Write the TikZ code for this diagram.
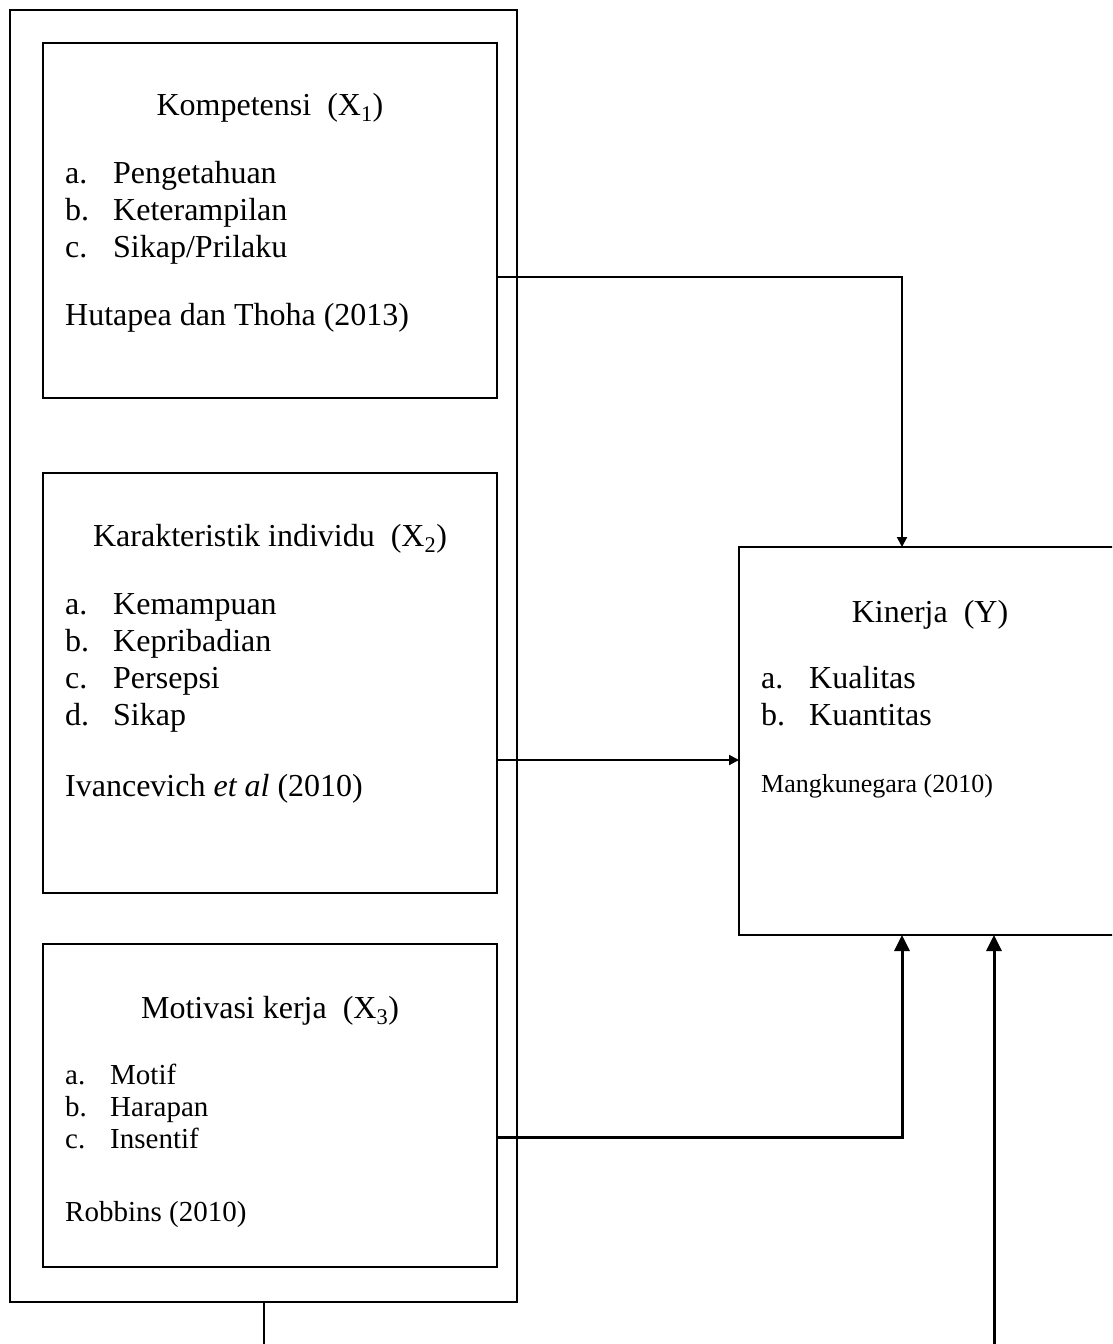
\documentclass[tikz,border=0pt]{standalone}
\usepackage{fontspec}
\setmainfont{Liberation Serif}
\usetikzlibrary{arrows.meta,calc}
\tikzset{
  box/.style={draw=black, line width=2pt, rectangle, inner sep=0pt, outer sep=0pt, anchor=north west},
  txt/.style={anchor=base west, inner sep=0pt, font=\fontsize{32}{36}\selectfont},
  stxt/.style={anchor=base west, inner sep=0pt, font=\fontsize{29}{32}\selectfont},
  xstxt/.style={anchor=base west, inner sep=0pt, font=\fontsize{26}{30}\selectfont},
  ttl/.style={anchor=base, inner sep=0pt, font=\fontsize{32}{36}\selectfont},
  conn/.style={draw=black, line width=2pt, -{Triangle[length=10pt,width=10pt]}},
  thick conn/.style={draw=black, line width=3pt, -{Triangle[length=16pt,width=15pt]}},
  plain/.style={draw=black, line width=2pt},
}
\begin{document}
\begin{tikzpicture}[x=1pt,y=-1pt]
\useasboundingbox (0,0) rectangle (1112,1344);
\clip (0,0) rectangle (1112,1344);
% boxes
\node[box, minimum width=507pt, minimum height=1292pt] (outer) at (10,10) {};
\node[box, minimum width=454pt, minimum height=355pt] (b1) at (43,43) {};
\node[box, minimum width=454pt, minimum height=420pt] (b2) at (43,473) {};
\node[box, minimum width=454pt, minimum height=323pt] (b3) at (43,944) {};
\node[box, minimum width=382pt, minimum height=388pt] (ky) at (739,547) {};
% box 1 text
\node[ttl] (t1) at (270,115) {Kompetensi\ \ (X\textsubscript{1})};
\node[txt] (t1a) at (65,183) {a.}; \node[txt] (t1a2) at (113,183) {Pengetahuan};
\node[txt] (t1b) at (65,220) {b.}; \node[txt] (t1b2) at (113,220) {Keterampilan};
\node[txt] (t1c) at (65,257) {c.}; \node[txt] (t1c2) at (113,257) {Sikap/Prilaku};
\node[txt] (t1r) at (65,325) {Hutapea dan Thoha (2013)};
% box 2 text
\node[ttl] (t2) at (270,546) {Karakteristik individu\ \ (X\textsubscript{2})};
\node[txt] (t2a) at (65,614) {a.}; \node[txt] (t2a2) at (113,614) {Kemampuan};
\node[txt] (t2b) at (65,651) {b.}; \node[txt] (t2b2) at (113,651) {Kepribadian};
\node[txt] (t2c) at (65,688) {c.}; \node[txt] (t2c2) at (113,688) {Persepsi};
\node[txt] (t2d) at (65,725) {d.}; \node[txt] (t2d2) at (113,725) {Sikap};
\node[txt] (t2r) at (65,796) {Ivancevich \textit{et al} (2010)};
% box 3 text
\node[ttl] (t3) at (270,1018) {Motivasi kerja\ \ (X\textsubscript{3})};
\node[stxt] (m3a) at (65,1084) {a.}; \node[stxt] (m3a2) at (110,1084) {Motif};
\node[stxt] (m3b) at (65,1116) {b.}; \node[stxt] (m3b2) at (110,1116) {Harapan};
\node[stxt] (m3c) at (65,1148) {c.}; \node[stxt] (m3c2) at (110,1148) {Insentif};
\node[stxt] (t3r) at (65,1221) {Robbins (2010)};
% kinerja text
\node[ttl] (ty) at (930,622) {Kinerja\ \ (Y)};
\node[txt] (tya) at (761,688) {a.}; \node[txt] (tya2) at (809,688) {Kualitas};
\node[txt] (tyb) at (761,725) {b.}; \node[txt] (tyb2) at (809,725) {Kuantitas};
\node[xstxt] (tyr) at (761,792) {Mangkunegara (2010)};
% connectors
\draw[conn] (b1.east |- 0,277) -| ([xshift=-28pt]ky.north);
\draw[conn] (b2.east |- 0,760) -- (ky.west |- 0,760);
\draw[thick conn] (b3.east |- 0,1137) -| ([xshift=-28pt]ky.south);
\coordinate (bot) at (994,1350);
\draw[thick conn] (bot) -- ([xshift=64pt]ky.south);
\coordinate (bot2) at (263.5,1350);
\draw[plain] (outer.south) -- (bot2);
\end{tikzpicture}
\end{document}
